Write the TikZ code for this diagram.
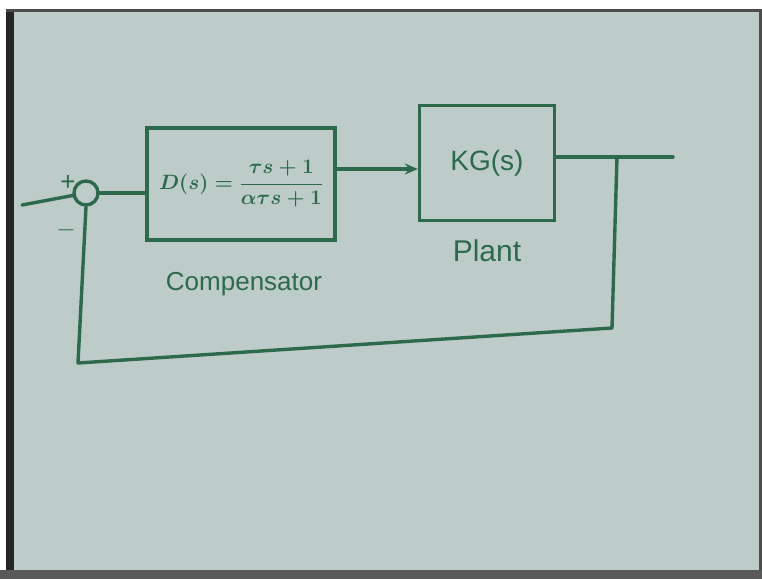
\documentclass[tikz,border=0pt]{standalone}
\usepackage{fontspec}
\setmainfont{Liberation Sans}
\usetikzlibrary{arrows.meta}
\definecolor{board}{HTML}{BDCCC8}
\definecolor{ink}{HTML}{2D6A4C}
\begin{document}
\begin{tikzpicture}[x=1pt,y=-1pt,
  wire/.style={draw=ink,line width=3.4pt,line cap=round,line join=round},
  blockbox/.style={draw=ink,line width=3.4pt,inner sep=0pt,text=ink},
  hand/.style={text=ink,font=\fontsize{26}{30}\selectfont}]
% board and frame
\useasboundingbox (0,0) rectangle (762,579);
\fill[white] (0,0) rectangle (762,579);
\fill[board] (6,9) rectangle (762,570);
\fill[black!85] (6,9) rectangle (14,570);
\fill[black!70] (6,9) rectangle (762,12);
\fill[black!70] (759,9) rectangle (762,570);
\fill[gray!70!black] (0,570) rectangle (762,579);
% blocks
\node[blockbox,circle,minimum size=24pt] (sum) at (86,193) {};
\node[blockbox,minimum width=188pt,minimum height=112pt,
  font=\fontsize{21}{24}\selectfont\boldmath] (comp) at (241,184)
  {$\displaystyle D(s)=\frac{\tau s+1}{\alpha\tau s+1}$};
\node[blockbox,minimum width=135pt,minimum height=115pt,
  font=\fontsize{28}{32}\selectfont] (plant) at (487,163) {KG(s)};
% labels
\node[hand] (plus) at (68,183) {+};
\node[hand] (minus) at (66,230) {$-$};
\node[hand] (complabel) at (244,284) {Compensator};
\node[hand,font=\fontsize{30}{34}\selectfont] (plantlabel) at (487,251) {Plant};
% signal points
\coordinate (in) at (22,205);
\coordinate (mid) at (380,169);
\coordinate (out) at (673,157);
\coordinate (branch) at (617,157);
\coordinate (fbr) at (612,328);
\coordinate (fbl) at (78,363);
% connectors
\draw[wire] (in) -- (sum);
\draw[wire] (sum.east) -- (comp.west |- sum.east);
\draw[wire,-{Stealth[length=13pt,width=11pt]}] (comp.east |- mid) -- (plant.west |- mid);
\draw[wire] (plant.east |- out) -- (out);
\draw[wire] (branch) -- (fbr) -- (fbl) -- (sum.south);
\end{tikzpicture}
\end{document}
